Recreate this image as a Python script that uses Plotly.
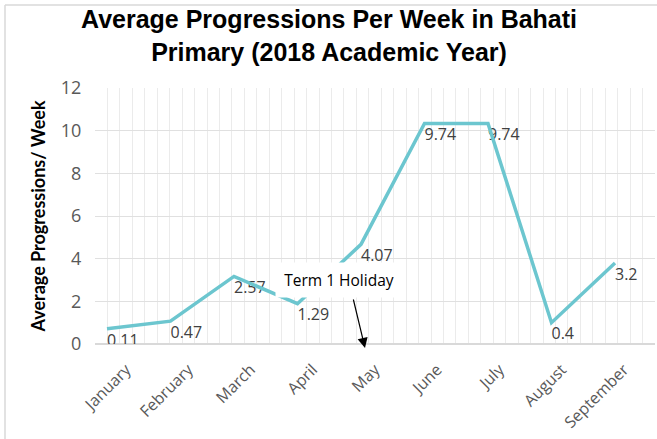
import plotly.graph_objects as go

months = ["January", "February", "March", "April", "May", "June", "July", "August", "September"]
progressions = [0.11, 0.47, 2.57, 1.29, 4.07, 9.74, 9.74, 0.4, 3.2]
y_ticks = [0, 2, 4, 6, 8, 10, 12]
note_text = "Term 1 Holiday"
title_text = "<b>Average Progressions Per Week in Bahati<br>Primary (2018 Academic Year)</b>"

LINE = "#6cc6cf"
W, H = 657, 439
L, R, T, B = 95, 2, 88, 95
PW = W - L - R
PH = H - T - B

fig = go.Figure()
# the line
fig.add_trace(go.Scatter(
    x=months, y=progressions,
    mode="lines",
    line=dict(color=LINE, width=3.5),
    xaxis="x2", yaxis="y2",
    hoverinfo="x+y",
    showlegend=False,
))
# data labels
fig.add_trace(go.Scatter(
    x=months, y=progressions,
    mode="text",
    text=[str(v) for v in progressions],
    textposition="middle right",
    textfont=dict(family="Open Sans", size=16, color="#404040"),
    xaxis="x2", yaxis="y",
    hoverinfo="skip",
    showlegend=False,
))

fig.update_layout(
    width=W, height=H,
    margin=dict(l=L, r=R, t=T, b=B),
    paper_bgcolor="white", plot_bgcolor="white",
    xaxis=dict(
        type="linear", range=[-0.5, len(months) - 0.5],
        tickmode="array", tickvals=list(range(len(months))), ticktext=months,
        tickangle=-45,
        tickfont=dict(family="Open Sans", size=16, color="#595959"),
        showgrid=False, zeroline=False, showline=False,
        ticks="outside", ticklen=9, tickcolor="rgba(0,0,0,0)",
        minor=dict(tickmode="linear", tick0=-0.5, dtick=0.2, showgrid=True,
                   gridcolor="#ebebeb", gridwidth=1, ticks=""),
        fixedrange=True,
    ),
    yaxis=dict(
        range=[0, 12], tickmode="array", tickvals=y_ticks,
        tickfont=dict(family="Open Sans", size=18, color="#595959"),
        showgrid=True, gridcolor="#e0e0e0", gridwidth=1,
        zeroline=True, zerolinecolor="#d9d9d9", zerolinewidth=1.5,
        showline=False, ticks="outside", ticklen=9, tickcolor="rgba(0,0,0,0)",
        title=dict(text="<b>Average Progressions/ Week</b>",
                   font=dict(family="Lato", size=18, color="black"), standoff=10),
        fixedrange=True,
    ),
    xaxis2=dict(type="category", overlaying="x", range=[-0.189, 8.630],
                visible=False, fixedrange=True),
    yaxis2=dict(overlaying="y", range=[-0.6, 11.4], visible=False, fixedrange=True),
)

def px_x(px):
    return -0.5 + (px - L) / PW * len(months)

def px_y(py):
    return (T + PH - py) / PH * 12

# Title
fig.add_annotation(
    x=(W / 2 - L) / PW, y=(T + PH - 3) / PH, xref="paper", yref="paper",
    xanchor="center", yanchor="top",
    text=title_text, showarrow=False,
    font=dict(family="Liberation Sans", size=25, color="black"),
)
# Text box for the holiday note
fig.add_annotation(
    x=px_x(339), y=px_y(280), xref="x", yref="y",
    text=note_text, showarrow=False,
    font=dict(family="Open Sans", size=15.5, color="black"),
    bgcolor="white", width=124, height=32,
)
# Arrow
fig.add_annotation(
    x=px_x(365), y=px_y(348), xref="x", yref="y",
    ax=px_x(353), ay=px_y(298), axref="x", ayref="y",
    text="", showarrow=True, arrowhead=2, arrowsize=1.7, arrowwidth=1.2,
    arrowcolor="black",
)

# Chart frame lines (top and left)
fig.add_shape(type="line", xref="paper", yref="paper",
              x0=(5 - L) / PW, x1=(W - L) / PW, y0=(T + PH - 5) / PH, y1=(T + PH - 5) / PH,
              line=dict(color="#d9d9d9", width=1.5))
fig.add_shape(type="line", xref="paper", yref="paper",
              x0=(5 - L) / PW, x1=(5 - L) / PW, y0=(T + PH - 5) / PH, y1=(T + PH - H) / PH,
              line=dict(color="#d9d9d9", width=1.5))

fig.write_html("out.html")
